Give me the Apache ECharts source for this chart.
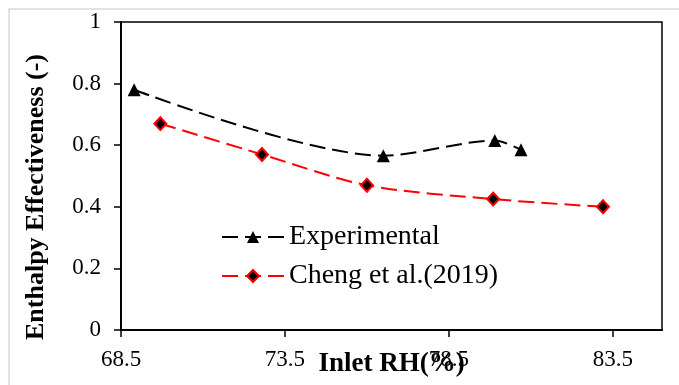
<!DOCTYPE html>
<html>
<head>
<meta charset="utf-8">
<script src="https://cdn.jsdelivr.net/npm/echarts@6/dist/echarts.min.js"></script>
<style>
  html, body { margin: 0; padding: 0; background: #fff; }
  #chart { width: 679px; height: 385px; }
</style>
</head>
<body>
<div id="chart"></div>
<script>
// Inlet relative humidity (%) and enthalpy effectiveness (-)
const experimentalRH = [68.9, 76.5, 79.9, 80.7];
const experimentalEff = [0.78, 0.566, 0.615, 0.585];
const chengRH = [69.7, 72.8, 76.0, 79.85, 83.2];
const chengEff = [0.67, 0.57, 0.47, 0.425, 0.4];
const xTicks = [68.5, 73.5, 78.5, 83.5];
const seriesNames = ['Experimental', 'Cheng et al.(2019)'];

const pairs = (xs, ys) => xs.map((x, i) => [x, ys[i]]);
const serif = '"Liberation Serif", "Times New Roman", serif';

const chart = echarts.init(document.getElementById('chart'), null, { renderer: 'canvas' });

chart.setOption({
  animation: false,
  backgroundColor: '#fff',
  grid: {
    left: 121, top: 22, right: 17, bottom: 55,
    show: true, borderColor: '#000', borderWidth: 1.5,
    containLabel: false, outerBoundsMode: 'none'
  },
  xAxis: {
    type: 'value',
    min: 68.5,
    max: 85,
    name: 'Inlet RH(%)',
    nameLocation: 'middle',
    nameGap: 21,
    nameMoveOverlap: false,
    nameTextStyle: { fontFamily: serif, fontSize: 27, fontWeight: 'bold', color: '#000' },
    axisLine: { show: true, onZero: false, lineStyle: { color: '#000', width: 2 } },
    axisTick: { show: true, inside: false, length: 7, customValues: xTicks, lineStyle: { color: '#000', width: 1.5 } },
    axisLabel: { customValues: xTicks, margin: 18, fontFamily: serif, fontSize: 23, color: '#000' },
    splitLine: { show: false }
  },
  yAxis: {
    type: 'value',
    min: 0,
    max: 1,
    interval: 0.2,
    axisLine: { show: true, lineStyle: { color: '#000', width: 2 } },
    axisTick: { show: true, inside: false, length: 7, lineStyle: { color: '#000', width: 1.5 } },
    axisLabel: { margin: 20, fontFamily: serif, fontSize: 23, color: '#000' },
    splitLine: { show: false }
  },
  legend: {
    orient: 'vertical',
    left: 216,
    top: 218,
    itemWidth: 62,
    itemHeight: 15,
    itemGap: 11,
    textStyle: { fontFamily: serif, fontSize: 28, color: '#000', lineHeight: 28 },
    data: seriesNames
  },
  graphic: [
    {
      // chart-area frame: only its top and left edges fall inside the canvas
      type: 'polyline',
      shape: { points: [[9, 400], [9, 9], [700, 9]] },
      style: { fill: 'none', stroke: '#d9d9d9', lineWidth: 1.5 },
      silent: true
    },
    {
      type: 'text',
      x: 36, y: 197,
      rotation: Math.PI / 2,
      style: {
        text: 'Enthalpy Effectiveness (-)',
        fontFamily: serif, fontSize: 26, fontWeight: 'bold', fill: '#000',
        align: 'center', verticalAlign: 'middle'
      }
    }
  ],
  series: [
    {
      name: seriesNames[0],
      type: 'line',
      smooth: 0.3,
      data: pairs(experimentalRH, experimentalEff),
      symbol: 'triangle',
      symbolSize: 13,
      itemStyle: { color: '#000' },
      lineStyle: { color: '#000', width: 2, type: [16, 7] },
      z: 3
    },
    {
      name: seriesNames[1],
      type: 'line',
      smooth: 0.3,
      data: pairs(chengRH, chengEff),
      symbol: 'diamond',
      symbolSize: [12, 13],
      itemStyle: { color: '#000', borderColor: '#ff0000', borderWidth: 2 },
      lineStyle: { color: '#ff0000', width: 2, type: [16, 7] },
      z: 2
    }
  ]
});
</script>
</body>
</html>
